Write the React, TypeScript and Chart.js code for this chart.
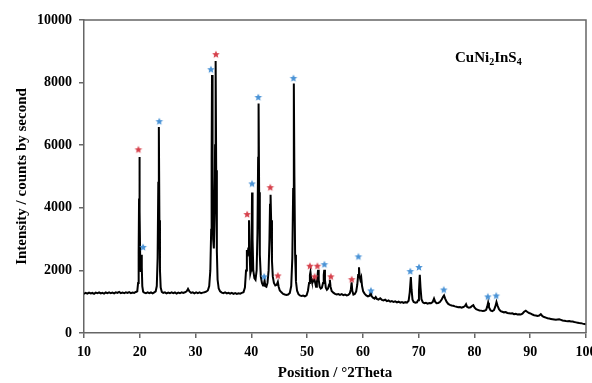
import React, { useEffect, useRef } from 'react';
import { Chart, registerables } from 'chart.js';

Chart.register(...registerables);

const FONT = "'Liberation Serif', 'Times New Roman', serif";

const xTickValues = [10, 20, 30, 40, 50, 60, 70, 80, 90, 100];
const yTickValues = [0, 2000, 4000, 6000, 8000, 10000];

const pattern10to30: [number, number][] = [
  [10.0, 1250], [10.3, 1285], [10.6, 1260], [10.9, 1290], [11.2, 1265], [11.5, 1280], [11.8, 1250], [12.1, 1290],
  [12.4, 1270], [12.7, 1300], [13.0, 1265], [13.3, 1285], [13.6, 1260], [13.9, 1295], [14.2, 1275], [14.5, 1300],
  [14.8, 1270], [15.1, 1290], [15.4, 1265], [15.7, 1300], [16.0, 1280], [16.3, 1310], [16.6, 1275], [16.9, 1295],
  [17.2, 1270], [17.5, 1300], [17.8, 1280], [18.1, 1305], [18.4, 1275], [18.7, 1295], [19.0, 1280], [19.3, 1310],
  [19.55, 1330], [19.7, 1600], [19.8, 2600], [19.87, 4300], [19.93, 5620], [20.0, 3900], [20.08, 2300], [20.18, 1950],
  [20.28, 2500], [20.36, 2100], [20.45, 1500], [20.6, 1320], [20.8, 1290], [21.1, 1270], [21.4, 1300], [21.7, 1275],
  [22.0, 1295], [22.3, 1265], [22.6, 1300], [22.85, 1330], [23.05, 1500], [23.2, 2400], [23.32, 4800], [23.42, 6580],
  [23.52, 3600], [23.62, 2000], [23.75, 1450], [23.95, 1310], [24.2, 1280], [24.5, 1300], [24.8, 1265], [25.1, 1290],
  [25.4, 1270], [25.7, 1300], [26.0, 1275], [26.3, 1295], [26.6, 1260], [26.9, 1290], [27.2, 1270], [27.5, 1300],
  [27.8, 1280], [28.1, 1300], [28.4, 1330], [28.65, 1410], [28.9, 1330], [29.2, 1280], [29.5, 1300], [29.8, 1265],
  [30.1, 1295],
];

const pattern30to50: [number, number][] = [
  [30.4, 1270], [30.7, 1300], [31.0, 1275], [31.3, 1290], [31.6, 1300], [31.9, 1320], [32.2, 1360], [32.45, 1500],
  [32.65, 2000], [32.8, 3300], [32.88, 5600], [32.95, 8240], [33.05, 5000], [33.15, 3000], [33.28, 2700], [33.4, 3800],
  [33.5, 6000], [33.6, 8690], [33.7, 5200], [33.82, 2600], [33.95, 1700], [34.15, 1420], [34.4, 1330], [34.7, 1290],
  [35.0, 1270], [35.3, 1295], [35.6, 1265], [35.9, 1285], [36.2, 1255], [36.5, 1280], [36.8, 1250], [37.1, 1275],
  [37.4, 1250], [37.7, 1270], [38.0, 1255], [38.3, 1280], [38.6, 1300], [38.85, 1450], [39.05, 2000], [39.2, 2650],
  [39.32, 2450], [39.45, 2700], [39.58, 3600], [39.7, 2500], [39.82, 1900], [39.95, 2000], [40.05, 2900], [40.13, 4490],
  [40.22, 3000], [40.35, 2000], [40.55, 1750], [40.75, 1700], [40.95, 2000], [41.1, 3200], [41.22, 5600], [41.3, 7330],
  [41.4, 4500], [41.52, 2500], [41.7, 1800], [41.9, 1600], [42.1, 1520], [42.25, 1560], [42.38, 1680], [42.5, 1500],
  [42.7, 1480], [42.9, 1600], [43.1, 2000], [43.25, 3000], [43.35, 4100], [43.45, 4420], [43.55, 3600], [43.7, 2300],
  [43.85, 1800], [44.05, 1600], [44.3, 1520], [44.55, 1540], [44.75, 1630], [44.9, 1480], [45.1, 1360], [45.4, 1300],
  [45.7, 1250], [46.0, 1230], [46.3, 1215], [46.6, 1230], [46.9, 1280], [47.15, 1500], [47.35, 2400], [47.5, 4600],
  [47.62, 7970], [47.72, 5000], [47.85, 2500], [48.0, 1650], [48.2, 1350], [48.45, 1240], [48.7, 1200], [49.0, 1180],
  [49.3, 1195], [49.6, 1170], [49.9, 1200],
];

const pattern50to70: [number, number][] = [
  [50.15, 1350], [50.35, 1600], [50.5, 1850], [50.6, 1950], [50.72, 1750], [50.85, 1650], [51.0, 1620], [51.15, 1680],
  [51.3, 1740], [51.45, 1600], [51.6, 1480], [51.75, 1600], [51.88, 1850], [51.97, 2020], [52.08, 1700], [52.25, 1480],
  [52.45, 1420], [52.65, 1450], [52.85, 1600], [52.98, 1850], [53.08, 2020], [53.2, 1700], [53.35, 1450], [53.55, 1380],
  [53.75, 1420], [53.95, 1550], [54.08, 1700], [54.2, 1480], [54.4, 1340], [54.7, 1290], [55.0, 1250], [55.3, 1230],
  [55.6, 1245], [55.9, 1220], [56.2, 1240], [56.5, 1210], [56.8, 1225], [57.1, 1200], [57.4, 1220], [57.65, 1260],
  [57.85, 1400], [57.98, 1620], [58.1, 1350], [58.3, 1230], [58.55, 1250], [58.8, 1330], [59.0, 1550], [59.15, 1850],
  [59.3, 2100], [59.42, 1800], [59.55, 1700], [59.7, 1780], [59.85, 1500], [60.05, 1330], [60.3, 1260], [60.6, 1200],
  [60.9, 1170], [61.2, 1190], [61.4, 1300], [61.55, 1180], [61.8, 1130], [62.1, 1100], [62.3, 1150], [62.5, 1090],
  [62.8, 1070], [63.1, 1110], [63.4, 1060], [63.7, 1040], [64.0, 1065], [64.3, 1020], [64.6, 1040], [64.9, 1000],
  [65.2, 1020], [65.5, 990], [65.8, 1010], [66.1, 980], [66.4, 1000], [66.7, 970], [67.0, 990], [67.3, 960],
  [67.6, 985], [67.9, 970], [68.2, 1030], [68.4, 1300], [68.6, 1790], [68.72, 1400], [68.9, 1060], [69.1, 990],
  [69.4, 970], [69.7, 980], [69.9, 1050], [70.05, 1350], [70.2, 1860], [70.33, 1450], [70.5, 1080], [70.75, 980],
];

const pattern70to100: [number, number][] = [
  [71.0, 950], [71.3, 965], [71.6, 940], [71.9, 960], [72.2, 950], [72.5, 990], [72.75, 1100], [72.95, 1000],
  [73.2, 950], [73.5, 960], [73.8, 990], [74.1, 1060], [74.35, 1150], [74.55, 1200], [74.75, 1100], [75.0, 1000],
  [75.3, 930], [75.6, 900], [75.9, 880], [76.2, 870], [76.5, 850], [76.8, 840], [77.1, 820], [77.4, 830],
  [77.7, 810], [78.0, 830], [78.3, 860], [78.5, 920], [78.7, 830], [79.0, 810], [79.3, 820], [79.6, 870],
  [79.8, 890], [80.0, 820], [80.3, 760], [80.6, 740], [80.9, 720], [81.2, 715], [81.5, 700], [81.8, 710],
  [82.1, 740], [82.3, 850], [82.45, 970], [82.6, 820], [82.9, 720], [83.2, 700], [83.5, 730], [83.75, 850],
  [83.95, 990], [84.15, 870], [84.4, 760], [84.7, 700], [85.0, 680], [85.3, 660], [85.6, 670], [85.9, 640],
  [86.2, 630], [86.5, 620], [86.8, 630], [87.1, 600], [87.4, 610], [87.7, 590], [88.0, 600], [88.3, 590],
  [88.6, 620], [88.9, 680], [89.2, 710], [89.5, 670], [89.8, 640], [90.1, 620], [90.4, 590], [90.7, 570],
  [91.0, 560], [91.3, 545], [91.6, 560], [91.9, 600], [92.2, 540], [92.5, 510], [92.8, 490], [93.1, 470],
  [93.4, 460], [93.7, 450], [94.0, 440], [94.3, 430], [94.6, 420], [94.9, 430], [95.2, 440], [95.5, 420],
  [95.8, 400], [96.1, 390], [96.4, 380], [96.7, 375], [97.0, 380], [97.3, 370], [97.6, 365], [97.9, 350],
  [98.2, 340], [98.5, 330], [98.8, 320], [99.1, 315], [99.4, 300], [99.7, 290], [100.0, 280],
];

const redStars: [number, number][] = [
  [19.75, 5870], [33.65, 8910], [39.25, 3800], [43.4, 4660], [44.75, 1840], [50.5, 2150],
  [51.35, 1810], [51.85, 2150], [54.25, 1810], [58.0, 1720],
];

const blueStars: [number, number][] = [
  [20.6, 2750], [23.5, 6770], [32.75, 8430], [40.12, 4780], [41.25, 7540], [42.3, 1810],
  [47.55, 8150], [53.1, 2200], [59.2, 2450], [61.45, 1360], [68.5, 1980], [70.05, 2110],
  [74.5, 1390], [82.4, 1170], [83.9, 1200],
];

const compoundParts: { text: string; sub: boolean }[] = [
  { text: 'CuNi', sub: false },
  { text: '2', sub: true },
  { text: 'InS', sub: false },
  { text: '4', sub: true },
];

const xTitle = 'Position / °2Theta';
const yTitle = 'Intensity / counts by second';

function makeStar(color: string, r: number): HTMLCanvasElement {
  const size = Math.ceil(r * 2) + 2;
  const c = document.createElement('canvas');
  c.width = size;
  c.height = size;
  const g = c.getContext('2d')!;
  g.fillStyle = color;
  g.beginPath();
  for (let i = 0; i < 10; i++) {
    const rad = i % 2 === 0 ? r : r * 0.45;
    const a = -Math.PI / 2 + (i * Math.PI) / 5;
    const px = size / 2 + rad * Math.cos(a);
    const py = size / 2 + 0.5 + rad * Math.sin(a);
    if (i === 0) g.moveTo(px, py);
    else g.lineTo(px, py);
  }
  g.closePath();
  g.fill();
  return c;
}

export default function App() {
  const ref = useRef<HTMLCanvasElement | null>(null);

  useEffect(() => {
    const canvas = ref.current;
    if (!canvas) return;

    const redImg = makeStar('#d6404b', 4);
    const blueImg = makeStar('#4a93d6', 4);

    const pattern = [...pattern10to30, ...pattern30to50, ...pattern50to70, ...pattern70to100];

    const framePlugin = {
      id: 'frame',
      afterDraw(chart: any) {
        const { ctx, chartArea } = chart;
        ctx.save();
        ctx.strokeStyle = '#666';
        ctx.lineWidth = 1.5;
        ctx.beginPath();
        ctx.moveTo(chartArea.left, chartArea.top);
        ctx.lineTo(chartArea.right, chartArea.top);
        ctx.lineTo(chartArea.right, chartArea.bottom);
        ctx.stroke();

        // compound label
        ctx.fillStyle = '#000';
        ctx.textBaseline = 'alphabetic';
        ctx.textAlign = 'left';
        let x = 455;
        const baseY = 62;
        for (const part of compoundParts) {
          ctx.font = part.sub ? `bold 10px ${FONT}` : `bold 15px ${FONT}`;
          ctx.fillText(part.text, x, part.sub ? baseY + 3 : baseY);
          x += ctx.measureText(part.text).width;
        }
        ctx.restore();
      },
    };

    const tickFont = { family: FONT, size: 14, weight: 'bold' as const };
    const titleFont = { family: FONT, size: 15, weight: 'bold' as const };

    const chart = new Chart(canvas, {
      type: 'line',
      data: {
        datasets: [
          {
            type: 'line',
            data: pattern as any,
            borderColor: '#000',
            borderWidth: 2,
            pointRadius: 0,
            tension: 0,
            fill: false,
            order: 2,
          },
          {
            type: 'scatter',
            data: redStars as any,
            pointStyle: redImg as any,
            pointRadius: 4,
            order: 1,
          },
          {
            type: 'scatter',
            data: blueStars as any,
            pointStyle: blueImg as any,
            pointRadius: 4,
            order: 1,
          },
        ],
      },
      options: {
        animation: false,
        responsive: false,
        devicePixelRatio: 1,
        layout: { padding: { top: 20, right: 6, left: 0, bottom: 0 } },
        plugins: {
          legend: { display: false },
          tooltip: { enabled: false },
        },
        scales: {
          x: {
            type: 'linear',
            min: 10,
            max: 100,
            afterBuildTicks: (scale: any) => {
              scale.ticks = xTickValues.map((v) => ({ value: v }));
            },
            ticks: {
              color: '#000',
              font: tickFont,
              padding: 6,
              maxRotation: 0,
              autoSkip: false,
              callback: (v: any) => String(v),
            },
            grid: { drawOnChartArea: false, drawTicks: true, tickLength: 5, color: '#666', lineWidth: 1.5 },
            border: { color: '#666', width: 1.5 },
            title: { display: true, text: xTitle, color: '#000', font: titleFont, padding: { top: 0, bottom: 1 } },
            afterFit: (scale: any) => {
              scale.height = 50;
              scale.paddingRight = 0;
              scale.paddingLeft = 0;
            },
          },
          y: {
            type: 'linear',
            min: 0,
            max: 10000,
            afterBuildTicks: (scale: any) => {
              scale.ticks = yTickValues.map((v) => ({ value: v }));
            },
            ticks: {
              color: '#000',
              font: tickFont,
              padding: 7,
              callback: (v: any) => String(v),
            },
            grid: { drawOnChartArea: false, drawTicks: true, tickLength: 5, color: '#666', lineWidth: 1.5 },
            border: { color: '#666', width: 1.5 },
            title: { display: true, text: yTitle, color: '#000', font: titleFont, padding: { top: 13, bottom: 0 } },
            afterFit: (scale: any) => {
              scale.width = 84;
              scale.paddingTop = 0;
              scale.paddingBottom = 0;
            },
          },
        },
      } as any,
      plugins: [framePlugin],
    });

    return () => {
      chart.destroy();
    };
  }, []);

  return (
    <div style={{ position: 'absolute', left: 0, top: 0, width: 592, height: 383, background: '#fff' }}>
      <canvas ref={ref} width={592} height={383} style={{ display: 'block', width: 592, height: 383 }} />
    </div>
  );
}
